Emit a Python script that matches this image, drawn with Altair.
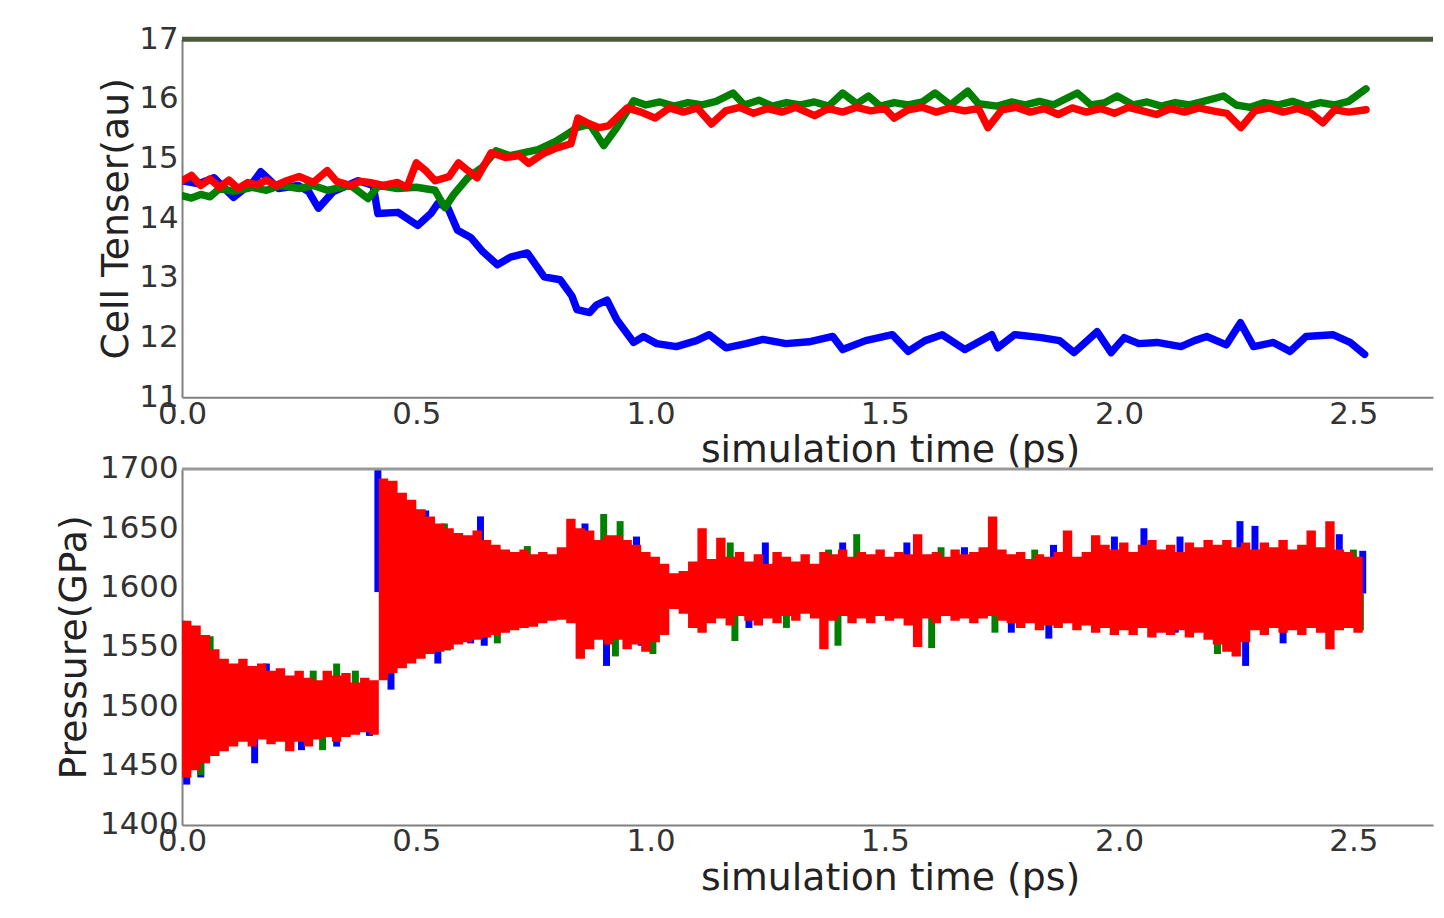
import altair as alt
import numpy as np
import pandas as pd

# ---------------- top panel: cell tensor (au) ----------------
blue_t = [0.0, 0.036, 0.068, 0.110, 0.153, 0.168, 0.206, 0.248, 0.270, 0.291, 0.323, 0.376, 0.408, 0.418,
          0.461, 0.503, 0.531, 0.546, 0.567, 0.588, 0.616, 0.641, 0.673, 0.701, 0.737, 0.773, 0.807, 0.832,
          0.843, 0.870, 0.885, 0.907, 0.928, 0.964, 0.985, 1.013, 1.055, 1.098, 1.125, 1.161, 1.204, 1.240,
          1.289, 1.338, 1.389, 1.410, 1.459, 1.516, 1.550, 1.586, 1.622, 1.671, 1.728, 1.741, 1.777, 1.834,
          1.873, 1.904, 1.953, 1.983, 2.011, 2.042, 2.081, 2.132, 2.161, 2.187, 2.229, 2.259, 2.287, 2.329,
          2.365, 2.399, 2.456, 2.493, 2.524]
blue_v = [14.63, 14.58, 14.68, 14.35, 14.62, 14.78, 14.50, 14.55, 14.45, 14.17, 14.45, 14.63, 14.55, 14.08,
          14.10, 13.88, 14.08, 14.25, 14.18, 13.80, 13.68, 13.45, 13.22, 13.35, 13.42, 13.02, 12.97, 12.70,
          12.47, 12.42, 12.55, 12.63, 12.30, 11.92, 12.02, 11.90, 11.85, 11.95, 12.05, 11.83, 11.90, 11.97,
          11.90, 11.93, 12.02, 11.80, 11.95, 12.05, 11.77, 11.95, 12.05, 11.80, 12.05, 11.83, 12.05, 12.00,
          11.95, 11.75, 12.10, 11.75, 12.00, 11.90, 11.92, 11.85, 11.95, 12.02, 11.88, 12.25, 11.85, 11.92,
          11.77, 12.02, 12.05, 11.92, 11.72]

green_t = [0.0, 0.02, 0.04, 0.06, 0.08, 0.11, 0.15, 0.18, 0.21, 0.25, 0.28, 0.31, 0.34, 0.36, 0.397, 0.42,
           0.46, 0.50, 0.54, 0.561, 0.58, 0.61, 0.64, 0.67, 0.70, 0.73, 0.76, 0.80, 0.82, 0.843, 0.87, 0.90,
           0.928, 0.964, 0.99, 1.02, 1.05, 1.08, 1.11, 1.14, 1.176, 1.20, 1.231, 1.26, 1.29, 1.32, 1.35, 1.38,
           1.41, 1.44, 1.465, 1.49, 1.52, 1.55, 1.58, 1.607, 1.64, 1.677, 1.70, 1.74, 1.77, 1.80, 1.83, 1.86,
           1.911, 1.94, 1.97, 1.996, 2.03, 2.06, 2.09, 2.12, 2.15, 2.18, 2.223, 2.25, 2.28, 2.31, 2.34, 2.37,
           2.40, 2.43, 2.46, 2.49, 2.527]
green_v = [14.38, 14.34, 14.40, 14.36, 14.50, 14.45, 14.52, 14.47, 14.55, 14.50, 14.55, 14.47, 14.52, 14.55,
           14.33, 14.55, 14.50, 14.52, 14.47, 14.18, 14.40, 14.68, 14.85, 15.13, 15.05, 15.10, 15.15, 15.30,
           15.40, 15.52, 15.58, 15.22, 15.52, 15.97, 15.90, 15.95, 15.88, 15.94, 15.90, 15.96, 16.10, 15.90,
           15.98, 15.88, 15.94, 15.90, 15.95, 15.88, 16.10, 15.92, 16.05, 15.88, 15.94, 15.90, 15.95, 16.10,
           15.90, 16.13, 15.92, 15.88, 15.95, 15.90, 15.96, 15.90, 16.10, 15.90, 15.94, 16.05, 15.90, 15.95,
           15.88, 15.94, 15.90, 15.96, 16.05, 15.90, 15.86, 15.94, 15.90, 15.96, 15.88, 15.94, 15.90, 15.96,
           16.17]

red_t = [0.0, 0.02, 0.04, 0.06, 0.08, 0.10, 0.12, 0.14, 0.16, 0.18, 0.20, 0.22, 0.25, 0.28, 0.31, 0.33, 0.36,
         0.38, 0.40, 0.43, 0.46, 0.48, 0.50, 0.52, 0.54, 0.57, 0.59, 0.61, 0.63, 0.66, 0.69, 0.72, 0.74, 0.77,
         0.80, 0.83, 0.845, 0.87, 0.89, 0.91, 0.95, 0.98, 1.01, 1.04, 1.07, 1.10, 1.13, 1.16, 1.19, 1.22, 1.25,
         1.28, 1.31, 1.35, 1.38, 1.41, 1.44, 1.47, 1.50, 1.52, 1.55, 1.58, 1.61, 1.64, 1.67, 1.70, 1.72, 1.75,
         1.78, 1.81, 1.84, 1.87, 1.90, 1.93, 1.96, 1.99, 2.02, 2.05, 2.08, 2.11, 2.14, 2.17, 2.20, 2.23, 2.26,
         2.29, 2.32, 2.35, 2.38, 2.41, 2.435, 2.46, 2.49, 2.527]
red_v = [14.63, 14.72, 14.55, 14.66, 14.52, 14.64, 14.50, 14.60, 14.56, 14.64, 14.55, 14.62, 14.70, 14.60,
         14.80, 14.62, 14.55, 14.62, 14.60, 14.55, 14.60, 14.52, 14.93, 14.80, 14.63, 14.70, 14.93, 14.80,
         14.68, 15.10, 15.02, 15.05, 14.92, 15.08, 15.18, 15.25, 15.68, 15.58, 15.52, 15.55, 15.85, 15.78,
         15.68, 15.85, 15.78, 15.85, 15.58, 15.80, 15.86, 15.76, 15.84, 15.78, 15.86, 15.72, 15.84, 15.78,
         15.86, 15.80, 15.84, 15.68, 15.82, 15.86, 15.78, 15.85, 15.80, 15.84, 15.52, 15.82, 15.86, 15.78,
         15.84, 15.74, 15.85, 15.78, 15.84, 15.76, 15.86, 15.80, 15.74, 15.84, 15.78, 15.85, 15.80, 15.76,
         15.52, 15.80, 15.85, 15.78, 15.84, 15.76, 15.60, 15.82, 15.78, 15.82]

# ---------------- bottom panel: pressure (GPa) ----------------
press_t = [round(0.02 * i, 2) for i in range(127)]
red_hi = [1572, 1568, 1560, 1548, 1540, 1536, 1540, 1534, 1536, 1530, 1532, 1526, 1530, 1524, 1522, 1530,
          1526, 1528, 1520, 1524, 1522,
          1692, 1690, 1680, 1674, 1666, 1660, 1654, 1650, 1646, 1644, 1648, 1640, 1636, 1632, 1630, 1632,
          1628, 1630, 1628, 1634, 1658, 1650, 1648, 1640, 1644, 1644, 1640, 1636, 1630, 1626, 1620, 1612,
          1614,
          1622, 1650, 1624, 1642, 1626, 1630, 1622, 1628, 1620, 1630, 1626, 1622, 1628, 1620, 1630, 1628,
          1632, 1626, 1630, 1628, 1632, 1626, 1630, 1628, 1645, 1628, 1630, 1626, 1632, 1628, 1630, 1634,
          1660, 1632, 1628, 1630, 1624, 1628, 1626, 1630, 1648, 1626, 1630, 1644, 1636, 1632, 1638, 1630,
          1636, 1640, 1632, 1636, 1630, 1638, 1634, 1640, 1636, 1640, 1634, 1638, 1632, 1638, 1634, 1640,
          1632, 1636, 1648, 1634, 1656, 1632, 1630, 1626, 1620]
red_lo = [1440, 1446, 1452, 1458, 1462, 1466, 1470, 1466, 1472, 1468, 1470, 1462, 1470, 1466, 1472, 1474,
          1470, 1474, 1476, 1478, 1476,
          1522, 1528, 1532, 1536, 1540, 1544, 1546, 1548, 1552, 1554, 1556, 1558, 1560, 1562, 1564, 1566,
          1567, 1570, 1572, 1573, 1570, 1540, 1548, 1556, 1552, 1556, 1548, 1552, 1546, 1554, 1560, 1582,
          1578,
          1566, 1562, 1570, 1574, 1568, 1576, 1572, 1568, 1574, 1570, 1576, 1572, 1578, 1574, 1548, 1572,
          1576, 1570, 1574, 1570, 1576, 1572, 1574, 1568, 1550, 1574, 1570, 1576, 1572, 1574, 1570, 1574,
          1576, 1572, 1570, 1566, 1570, 1564, 1568, 1566, 1570, 1564, 1568, 1562, 1566, 1560, 1564, 1560,
          1566, 1558, 1562, 1560, 1564, 1558, 1562, 1556, 1552, 1546, 1542, 1554, 1564, 1560, 1566, 1562,
          1564, 1560, 1566, 1562, 1548, 1564, 1566, 1562, 1570]

blue_spike_t = [0.00, 0.01, 0.04, 0.09, 0.155, 0.18, 0.255, 0.33, 0.40, 0.418, 0.446, 0.52, 0.546, 0.616,
                0.637, 0.645, 0.83, 0.86, 0.906, 0.97, 0.98, 1.21, 1.245, 1.41, 1.547, 1.67, 1.745, 1.77,
                1.85, 1.86, 1.99, 2.053, 2.12, 2.13, 2.258, 2.27, 2.29, 2.35, 2.47, 2.52]
blue_spike_v = [1572, 1434, 1440, 1536, 1452, 1536, 1463, 1466, 1475, 1700, 1514, 1665, 1536, 1553,
                1660, 1551, 1656, 1654, 1534, 1643, 1551, 1566, 1638, 1638, 1638, 1634, 1631, 1562,
                1557, 1636, 1643, 1650, 1562, 1643, 1656, 1534, 1652, 1553, 1645, 1631]

green_spike_t = [0.03, 0.06, 0.04, 0.17, 0.28, 0.30, 0.33, 0.37, 0.56, 0.567, 0.673, 0.737, 0.90, 0.925,
                 0.935, 1.005, 1.17, 1.18, 1.29, 1.38, 1.40, 1.44, 1.60, 1.62, 1.735, 1.82, 2.21, 2.24,
                 2.515, 2.50]
green_spike_v = [1567, 1559, 1442, 1525, 1530, 1463, 1536, 1530, 1654, 1547, 1553, 1635, 1662, 1542,
                 1656, 1544, 1638, 1555, 1566, 1632, 1551, 1645, 1549, 1634, 1562, 1632, 1544, 1547,
                 1564, 1632]

x_ticks = [0.0, 0.5, 1.0, 1.5, 2.0, 2.5]
top_y_ticks = [11, 12, 13, 14, 15, 16, 17]
bottom_y_ticks = [1400, 1450, 1500, 1550, 1600, 1650, 1700]

# ---------------- styling ----------------
FONT = "DejaVu Sans"
XMAX = 2.67
W = 1258
H1 = 360
H2 = 358
BLUE, GREEN, RED = "#0000ff", "#008000", "#ff0000"
SPINE = "#808080"

xscale = alt.Scale(domain=[0, XMAX], nice=False, zero=False)


def x_axis():
    return alt.Axis(values=x_ticks, format=".1f", title="simulation time (ps)", grid=False,
                    ticks=False, labelPadding=2, labelFont=FONT, labelFontSize=31, labelColor="#333333",
                    labelFlush=False, labelOverlap=False, labelBound=False,
                    domainColor=SPINE, domainWidth=2,
                    titleFont=FONT, titleFontSize=38, titleFontWeight="normal", titleColor="#222222",
                    titleX=712, titleY=65, titleAlign="center", titleBaseline="alphabetic")


def y_axis(vals, title, tx, h, fmt):
    return alt.Axis(values=vals, format=fmt, title=title, grid=False, ticks=False, labelPadding=4,
                    labelFont=FONT, labelFontSize=31, labelColor="#333333", labelOverlap=False,
                    labelBound=False, labelFlush=False, domainColor=SPINE, domainWidth=2,
                    titleFont=FONT, titleFontSize=38, titleFontWeight="normal", titleColor="#222222",
                    titleAngle=270, titleX=tx, titleY=h / 2, titleAlign="center",
                    titleBaseline="alphabetic")


ytop = alt.Scale(domain=[11, 17], nice=False, zero=False)
ybot = alt.Scale(domain=[1400, 1700], nice=False, zero=False)
ytop_axis = y_axis(top_y_ticks, "Cell Tenser(au)", -55, H1, "d")
ybot_axis = y_axis(bottom_y_ticks, "Pressure(GPa)", -97, H2, "d")


def line_layer(t, v, color):
    df = pd.DataFrame({"t": t, "v": v})
    return alt.Chart(df).mark_line(color=color, strokeWidth=7.5, strokeJoin="round",
                                   strokeCap="round", clip=True).encode(
        x=alt.X("t:Q", scale=xscale, axis=x_axis()),
        y=alt.Y("v:Q", scale=ytop, axis=ytop_axis))


top_spine = alt.Chart(pd.DataFrame({"a": [0]})).mark_rule(color="#4b5a3c", strokeWidth=5).encode(
    x=alt.datum(0, scale=xscale), x2=alt.datum(XMAX), y=alt.datum(17, scale=ytop))

top = alt.layer(
    line_layer(blue_t, blue_v, BLUE),
    line_layer(green_t, green_v, GREEN),
    line_layer(red_t, red_v, RED),
    top_spine,
).properties(width=W, height=H1)

# bottom
mid = (np.array(red_hi) + np.array(red_lo)) / 2.0


def spike_layer(t, v, color):
    base = np.interp(t, press_t, mid)
    df = pd.DataFrame({"t": t, "tip": v, "base": base})
    return alt.Chart(df).mark_rule(color=color, strokeWidth=7, clip=True).encode(
        x=alt.X("t:Q", scale=xscale, axis=x_axis()),
        y=alt.Y("tip:Q", scale=ybot, axis=ybot_axis),
        y2="base:Q")


red_df = pd.DataFrame({"t": press_t, "hi": red_hi, "lo": red_lo})
red_band = alt.Chart(red_df).mark_area(color=RED, interpolate="step-after", opacity=1, clip=True).encode(
    x=alt.X("t:Q", scale=xscale, axis=x_axis()),
    y=alt.Y("hi:Q", scale=ybot, axis=ybot_axis),
    y2="lo:Q")

bot_spine = alt.Chart(pd.DataFrame({"a": [0]})).mark_rule(color="#999999", strokeWidth=3).encode(
    x=alt.datum(0, scale=xscale), x2=alt.datum(XMAX), y=alt.datum(1700, scale=ybot))

bottom = alt.layer(
    spike_layer(blue_spike_t, blue_spike_v, BLUE),
    spike_layer(green_spike_t, green_spike_v, GREEN),
    red_band,
    bot_spine,
).properties(width=W, height=H2)

chart = alt.vconcat(top, bottom, spacing=72, bounds="flush").configure_view(
    stroke=None).properties(
    padding={"left": 48, "top": 13, "right": 0, "bottom": 0}, background="white")

chart.save("out.html", embed_options={"renderer": "svg", "actions": False})
